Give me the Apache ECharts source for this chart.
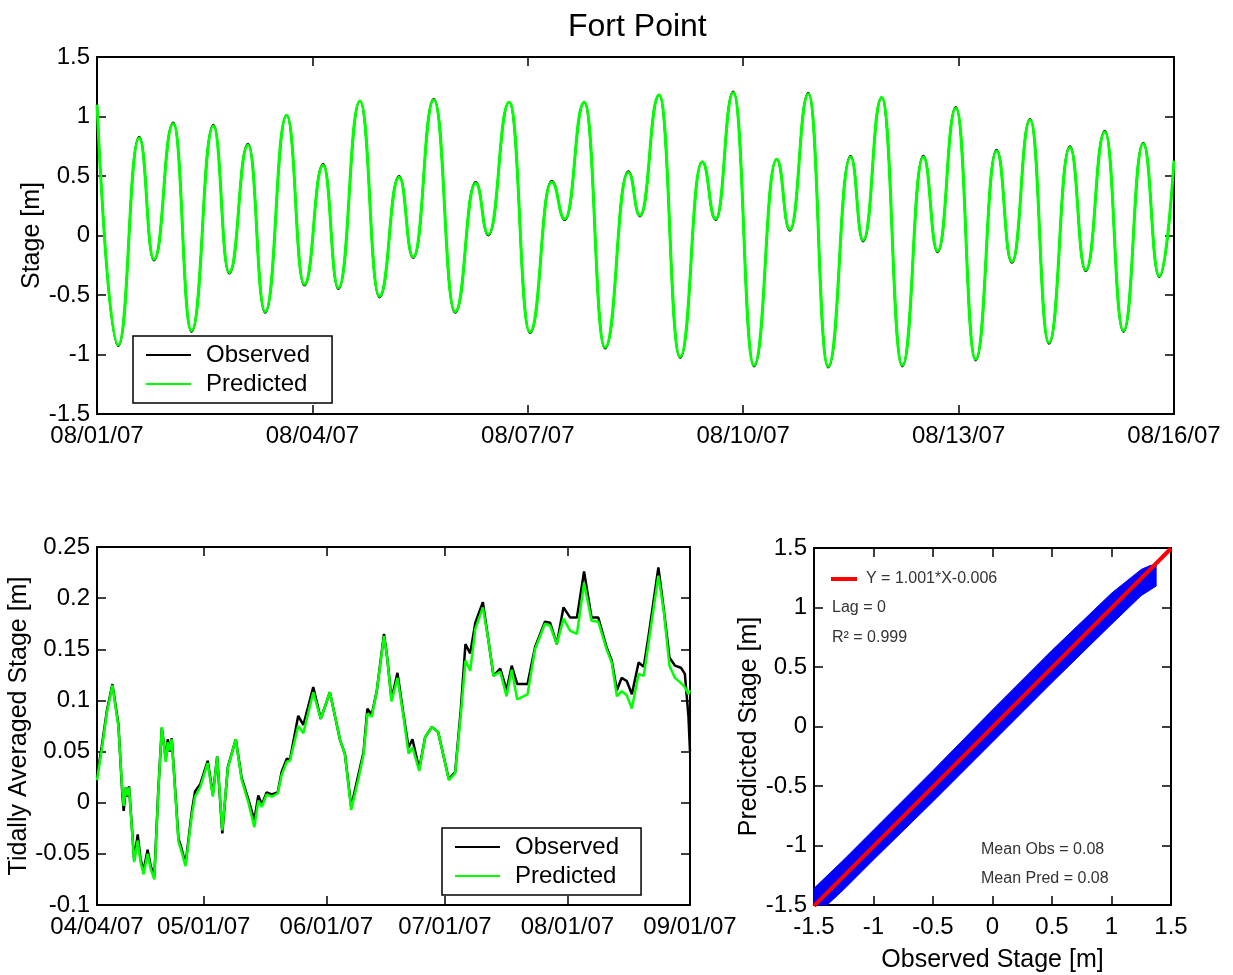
<!DOCTYPE html>
<html>
<head>
<meta charset="utf-8">
<script src="https://cdn.jsdelivr.net/npm/echarts@6/dist/echarts.min.js"></script>
<style>
html,body{margin:0;padding:0;background:#fff;}
#chart{width:1233px;height:975px;}
</style>
</head>
<body>
<div id="chart"></div>
<script>
// ---------------- DATA ----------------
// Top panel: tidal stage, hours from 08/01/07 00:00 (turning points)
const topTickLabels = ['08/01/07','08/04/07','08/07/07','08/10/07','08/13/07','08/16/07'];
const tideHours = [0, 7.1, 14.1, 19.05, 25.5, 31.6, 38.9, 44.2, 50.5, 56.2, 63.4, 69.3, 75.6, 80.7, 87.9, 94.4, 101.0, 105.7, 112.6, 119.7, 126.6, 130.8, 137.8, 144.7, 152.0, 156.4, 162.9, 169.8, 177.6, 181.5, 187.9, 194.9, 202.3, 206.8, 212.7, 219.6, 227.2, 231.6, 237.8, 244.4, 251.9, 256.1, 262.3, 269.2, 276.2, 281.0, 287.1, 293.7, 300.7, 305.8, 311.9, 318.2, 325.2, 330.5, 336.9, 343.1, 349.7, 355.1, 360];
const tideObs = [1.11, -0.93, 0.83, -0.21, 0.95, -0.81, 0.93, -0.32, 0.77, -0.65, 1.01, -0.42, 0.60, -0.45, 1.13, -0.52, 0.50, -0.19, 1.15, -0.65, 0.45, 0.00, 1.12, -0.82, 0.46, 0.13, 1.12, -0.95, 0.54, 0.16, 1.18, -1.03, 0.62, 0.13, 1.21, -1.10, 0.64, 0.04, 1.20, -1.11, 0.67, -0.05, 1.16, -1.10, 0.67, -0.14, 1.08, -1.05, 0.72, -0.23, 0.98, -0.91, 0.75, -0.30, 0.88, -0.81, 0.78, -0.35, 0.62];
const tidePred = [1.10, -0.92, 0.82, -0.20, 0.94, -0.80, 0.92, -0.31, 0.76, -0.64, 1.01, -0.41, 0.59, -0.44, 1.13, -0.51, 0.49, -0.18, 1.14, -0.64, 0.44, 0.01, 1.12, -0.81, 0.45, 0.14, 1.12, -0.94, 0.53, 0.17, 1.18, -1.02, 0.62, 0.14, 1.20, -1.09, 0.64, 0.05, 1.19, -1.10, 0.66, -0.04, 1.16, -1.09, 0.66, -0.13, 1.07, -1.04, 0.71, -0.22, 0.97, -0.90, 0.74, -0.29, 0.87, -0.80, 0.77, -0.34, 0.63];

// Bottom-left: tidally averaged stage, days from 04/04/07
const avgTickDays = [0, 27, 58, 88, 119, 150];
const avgTickLabels = ['04/04/07','05/01/07','06/01/07','07/01/07','08/01/07','09/01/07'];
const avgDays = [0, 1.2, 2.5, 3.9, 5.4, 6.4, 6.75, 7.3, 7.7, 8.1, 9.4, 10.3, 11.0, 11.8, 12.8, 13.6, 14.5, 15.5, 16.4, 17.4, 17.9, 18.4, 18.9, 20.6, 21.4, 22.4, 24.0, 24.8, 26.1, 28.0, 29.3, 30.4, 31.7, 33.1, 35.1, 36.6, 38.3, 39.8, 40.8, 41.7, 42.9, 44.2, 45.7, 46.7, 48.0, 48.8, 50.9, 52.2, 54.7, 56.6, 58.9, 61.5, 62.7, 64.3, 66.1, 67.4, 68.4, 69.5, 70.8, 72.6, 73.4, 74.5, 76.0, 77.5, 78.8, 79.8, 81.5, 83.0, 84.7, 86.3, 87.7, 89.0, 90.6, 92.0, 93.2, 94.4, 95.7, 97.6, 99.0, 100.3, 102.0, 103.6, 104.9, 106.3, 108.9, 110.8, 113.3, 114.6, 116.3, 118.0, 119.7, 121.4, 123.2, 125.1, 126.8, 128.9, 130.2, 131.5, 132.7, 134.0, 135.3, 137.0, 138.3, 139.4, 142.0, 143.4, 144.8, 146.2, 147.7, 148.7, 149.6, 150.0];
const avgObs = [0.025, 0.055, 0.090, 0.116, 0.077, 0.009, -0.008, 0.015, 0.006, 0.016, -0.056, -0.031, -0.055, -0.066, -0.046, -0.062, -0.072, 0.012, 0.073, 0.043, 0.062, 0.050, 0.063, -0.035, -0.045, -0.060, -0.008, 0.011, 0.018, 0.041, 0.008, 0.045, -0.030, 0.035, 0.062, 0.024, 0.003, -0.017, 0.007, -0.002, 0.010, 0.008, 0.010, 0.030, 0.043, 0.042, 0.085, 0.076, 0.113, 0.082, 0.108, 0.061, 0.048, -0.004, 0.027, 0.049, 0.092, 0.086, 0.110, 0.165, 0.142, 0.101, 0.127, 0.087, 0.054, 0.062, 0.033, 0.064, 0.074, 0.069, 0.045, 0.023, 0.030, 0.090, 0.155, 0.146, 0.176, 0.196, 0.159, 0.124, 0.131, 0.110, 0.134, 0.116, 0.116, 0.152, 0.177, 0.176, 0.155, 0.191, 0.181, 0.181, 0.226, 0.181, 0.181, 0.152, 0.139, 0.110, 0.122, 0.119, 0.106, 0.137, 0.133, 0.160, 0.230, 0.188, 0.142, 0.134, 0.132, 0.126, 0.085, 0.050];
const avgPred = [0.022, 0.052, 0.088, 0.115, 0.075, 0.012, -0.003, 0.015, 0.007, 0.015, -0.058, -0.037, -0.058, -0.070, -0.050, -0.065, -0.075, 0.010, 0.074, 0.040, 0.059, 0.051, 0.062, -0.038, -0.048, -0.062, -0.012, 0.006, 0.015, 0.039, 0.006, 0.045, -0.027, 0.034, 0.062, 0.022, 0.000, -0.024, 0.002, -0.004, 0.008, 0.006, 0.009, 0.027, 0.040, 0.041, 0.075, 0.068, 0.108, 0.082, 0.108, 0.061, 0.048, -0.007, 0.023, 0.047, 0.087, 0.084, 0.110, 0.163, 0.142, 0.099, 0.122, 0.085, 0.048, 0.054, 0.031, 0.064, 0.074, 0.069, 0.045, 0.022, 0.029, 0.085, 0.139, 0.129, 0.170, 0.191, 0.159, 0.124, 0.128, 0.104, 0.130, 0.101, 0.106, 0.150, 0.175, 0.173, 0.155, 0.180, 0.168, 0.165, 0.215, 0.178, 0.177, 0.150, 0.137, 0.104, 0.109, 0.105, 0.092, 0.126, 0.124, 0.153, 0.222, 0.186, 0.134, 0.122, 0.117, 0.113, 0.106, 0.110];

// Bottom-right: outline of the observed-vs-predicted point cloud, and fit line
const cloudUpperObs  = [-1.5, -1.25, -1.0, -0.5, 0.0, 0.5, 1.0, 1.25, 1.33, 1.375];
const cloudUpperPred = [-1.36, -1.12, -0.87, -0.37, 0.14, 0.64, 1.12, 1.32, 1.355, 1.35];
const cloudLowerObs  = [1.375, 1.25, 1.0, 0.5, 0.0, -0.5, -1.0, -1.25, -1.39, -1.5];
const cloudLowerPred = [1.18, 1.10, 0.86, 0.37, -0.13, -0.63, -1.12, -1.37, -1.5, -1.5];
const fitObs  = [-1.5, 1.5];
const fitPred = [-1.508, 1.496];
const fitLabel = 'Y = 1.001*X-0.006';
const statTexts = ['Lag = 0', 'R\u00B2 = 0.999', 'Mean Obs = 0.08', 'Mean Pred = 0.08'];

// ---------------- CHART ----------------
const FONT = "'Liberation Sans', Arial, sans-serif";
const zip = (a, b) => a.map((v, i) => [v, b[i]]);

function xAx(grid, min, max, opts) {
  return Object.assign({
    type: 'value', gridIndex: grid, min: min, max: max, nameMoveOverlap: false,
    axisLine: { show: true, onZero: false, lineStyle: { color: '#000', width: 2 } },
    axisTick: { show: true, inside: true, length: 9, lineStyle: { color: '#000', width: 1.5 } },
    splitLine: { show: false },
    axisLabel: { show: true, color: '#000', fontSize: 24, fontFamily: FONT, margin: 10 }
  }, opts);
}
function yAx(grid, min, max, opts) {
  return Object.assign({
    type: 'value', gridIndex: grid, min: min, max: max, nameMoveOverlap: false,
    axisLine: { show: true, onZero: false, lineStyle: { color: '#000', width: 2 } },
    axisTick: { show: true, inside: true, length: 9, lineStyle: { color: '#000', width: 1.5 } },
    splitLine: { show: false },
    axisLabel: { show: true, color: '#000', fontSize: 24, fontFamily: FONT, margin: 7 }
  }, opts);
}
const hidden = { show: false };
const nameStyle = { color: '#000', fontSize: 25, fontFamily: FONT };

function nearestTick(v) {
  let best = 0;
  avgTickDays.forEach((d, i) => { if (Math.abs(d - v) < Math.abs(avgTickDays[best] - v)) best = i; });
  return avgTickLabels[best];
}

const chart = echarts.init(document.getElementById('chart'), null, { renderer: 'canvas' });

const legendBase = {
  orient: 'vertical', icon: 'rect', itemWidth: 45, itemHeight: 2, itemGap: 5,
  backgroundColor: '#fff', borderColor: '#000', borderWidth: 1.5,
  padding: [7, 22, 7, 13], selectedMode: false,
  textStyle: { fontSize: 24, color: '#000', fontFamily: FONT, padding: [0, 0, 0, 10] }
};

chart.setOption({
  animation: false,
  backgroundColor: '#fff',
  title: {
    text: 'Fort Point', left: 563, top: 6,
    textStyle: { fontSize: 32, fontWeight: 'normal', color: '#000', fontFamily: FONT }
  },
  grid: [
    { left: 97, top: 57, width: 1077, height: 357 },
    { left: 97, top: 547, width: 593, height: 358 },
    { left: 814, top: 548, width: 357, height: 357 }
  ],
  xAxis: [
    xAx(0, 0, 360, { interval: 72, axisLabel: { show: true, color: '#000', fontSize: 24, fontFamily: FONT, margin: 10,
      formatter: v => topTickLabels[Math.round(v / 72)] } }),
    xAx(0, 0, 360, { interval: 72, position: 'top', axisLabel: hidden }),
    xAx(1, 0, 150, {
      axisTick: { show: true, inside: true, length: 9, lineStyle: { color: '#000', width: 1.5 }, customValues: avgTickDays },
      axisLabel: { show: true, color: '#000', fontSize: 24, fontFamily: FONT, margin: 10, customValues: avgTickDays,
        formatter: v => nearestTick(v) } }),
    xAx(1, 0, 150, { position: 'top',
      axisTick: { show: true, inside: true, length: 9, lineStyle: { color: '#000', width: 1.5 }, customValues: avgTickDays },
      axisLabel: hidden }),
    xAx(2, -1.5, 1.5, { interval: 0.5, name: 'Observed Stage [m]', nameLocation: 'middle', nameGap: 43, nameTextStyle: nameStyle }),
    xAx(2, -1.5, 1.5, { interval: 0.5, position: 'top', axisLabel: hidden })
  ],
  yAxis: [
    yAx(0, -1.5, 1.5, { interval: 0.5, name: 'Stage [m]', nameLocation: 'middle', nameGap: 52, nameTextStyle: nameStyle }),
    yAx(0, -1.5, 1.5, { interval: 0.5, position: 'right', axisLabel: hidden }),
    yAx(1, -0.1, 0.25, { interval: 0.05, name: 'Tidally Averaged Stage [m]', nameLocation: 'middle', nameGap: 65, nameTextStyle: nameStyle }),
    yAx(1, -0.1, 0.25, { interval: 0.05, position: 'right', axisLabel: hidden }),
    yAx(2, -1.5, 1.5, { interval: 0.5, name: 'Predicted Stage [m]', nameLocation: 'middle', nameGap: 52, nameTextStyle: nameStyle }),
    yAx(2, -1.5, 1.5, { interval: 0.5, position: 'right', axisLabel: hidden })
  ],
  legend: [
    Object.assign({}, legendBase, { data: ['Observed', 'Predicted'], left: 133, top: 336 }),
    Object.assign({}, legendBase, { data: ['Observed', 'Predicted'], left: 442, top: 828 }),
    { data: [fitLabel], left: 829, top: 569, orient: 'vertical', icon: 'rect', itemWidth: 26, itemHeight: 4, padding: 2,
      selectedMode: false,
      textStyle: { fontSize: 16, color: '#333', fontFamily: FONT, padding: [0, 0, 0, 4] } }
  ],
  graphic: [
    { type: 'text', left: 832, top: 600, style: { text: statTexts[0], fontSize: 16, fill: '#333', fontFamily: FONT } },
    { type: 'text', left: 832, top: 630, style: { text: statTexts[1], fontSize: 16, fill: '#333', fontFamily: FONT } },
    { type: 'text', left: 981, top: 842, style: { text: statTexts[2], fontSize: 16, fill: '#333', fontFamily: FONT } },
    { type: 'text', left: 981, top: 871, style: { text: statTexts[3], fontSize: 16, fill: '#333', fontFamily: FONT } }
  ],
  series: [
    { name: 'Observed', type: 'line', xAxisIndex: 0, yAxisIndex: 0, data: zip(tideHours, tideObs),
      smooth: 0.5, smoothMonotone: 'x', symbol: 'none', lineStyle: { color: '#000', width: 2 }, itemStyle: { color: '#000' } },
    { name: 'Predicted', type: 'line', xAxisIndex: 0, yAxisIndex: 0, data: zip(tideHours, tidePred),
      smooth: 0.5, smoothMonotone: 'x', symbol: 'none', lineStyle: { color: '#00ff00', width: 3 }, itemStyle: { color: '#00ff00' } },
    { name: 'Observed', type: 'line', xAxisIndex: 2, yAxisIndex: 2, data: zip(avgDays, avgObs),
      symbol: 'none', lineStyle: { color: '#000', width: 2.5 }, itemStyle: { color: '#000' } },
    { name: 'Predicted', type: 'line', xAxisIndex: 2, yAxisIndex: 2, data: zip(avgDays, avgPred),
      symbol: 'none', lineStyle: { color: '#00ff00', width: 2.5 }, itemStyle: { color: '#00ff00' } },
    { name: 'cloud', type: 'custom', xAxisIndex: 4, yAxisIndex: 4, silent: true, data: [[0, 0]],
      renderItem: (params, api) => {
        const pts = zip(cloudUpperObs, cloudUpperPred).concat(zip(cloudLowerObs, cloudLowerPred)).map(p => api.coord(p));
        return { type: 'polygon', shape: { points: pts }, style: { fill: '#0000ff', stroke: '#0000ff', lineWidth: 1 } };
      } },
    { name: fitLabel, type: 'line', xAxisIndex: 4, yAxisIndex: 4, data: zip(fitObs, fitPred),
      symbol: 'none', lineStyle: { color: '#ff0000', width: 4 }, itemStyle: { color: '#ff0000' } }
  ]
});
</script>
</body>
</html>
